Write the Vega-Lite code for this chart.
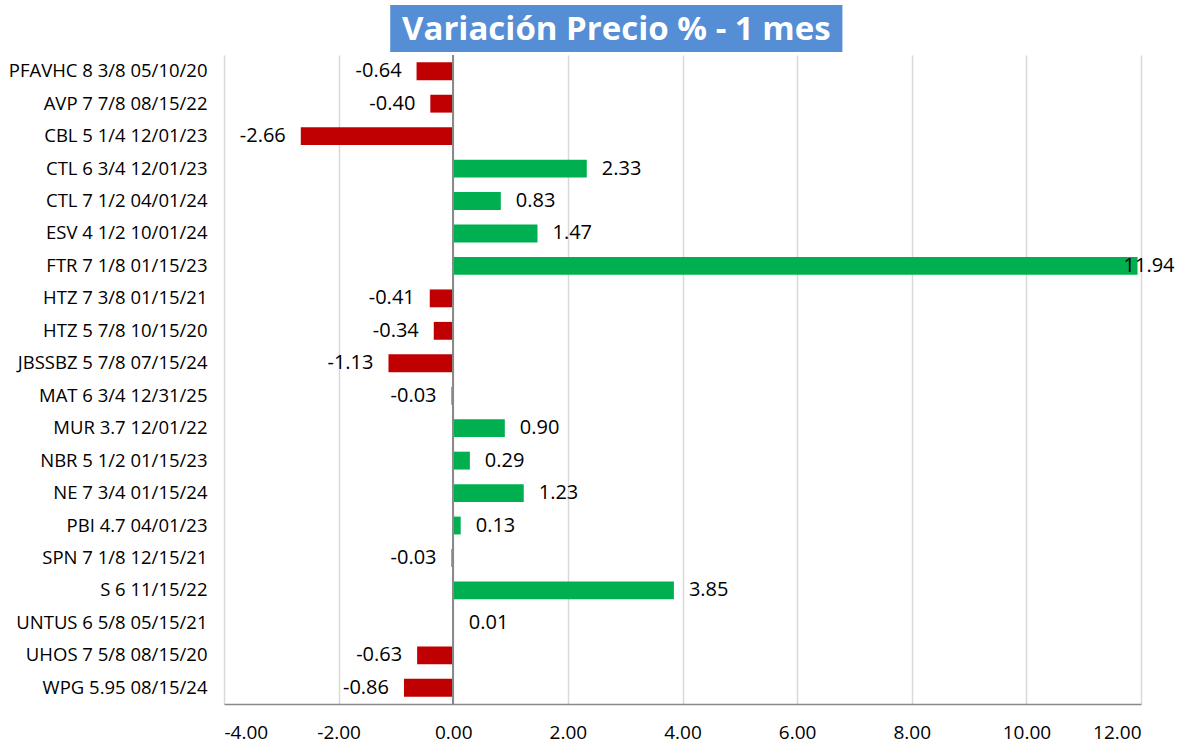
{
  "$schema": "https://vega.github.io/schema/vega-lite/v6.json",
  "padding": {"left": 8, "top": 5, "right": 10, "bottom": 0},
  "config": {
    "view": {"stroke": null},
    "font": "Open Sans",
    "locale": {"number": {"decimal": ".", "thousands": ",", "grouping": [3], "currency": ["$", ""], "minus": "-"}}
  },
  "spacing": 2,
  "vconcat": [
    {
      "width": 917,
      "height": 47,
      "data": {"values": [{"t": "Variación Precio % - 1 mes", "x1": -1.1, "x2": 6.79, "xm": 2.845}]},
      "layer": [
        {
          "mark": {"type": "rect", "color": "#558ED5"},
          "encoding": {
            "x": {"field": "x1", "type": "quantitative", "scale": {"domain": [-4, 12], "nice": false}, "axis": null},
            "x2": {"field": "x2"}
          }
        },
        {
          "mark": {"type": "text", "color": "white", "fontSize": 33, "fontWeight": "bold", "font": "Open Sans", "dy": 1},
          "encoding": {
            "x": {"field": "xm", "type": "quantitative", "scale": {"domain": [-4, 12], "nice": false}, "axis": null},
            "text": {"field": "t"}
          }
        }
      ]
    },
    {
      "width": 917,
      "height": 649,
      "data": {"values": [
        {"name": "PFAVHC 8 3/8 05/10/20", "v": -0.64},
        {"name": "AVP 7 7/8 08/15/22", "v": -0.40},
        {"name": "CBL 5 1/4 12/01/23", "v": -2.66},
        {"name": "CTL 6 3/4 12/01/23", "v": 2.33},
        {"name": "CTL 7 1/2 04/01/24", "v": 0.83},
        {"name": "ESV 4 1/2 10/01/24", "v": 1.47},
        {"name": "FTR 7 1/8 01/15/23", "v": 11.94},
        {"name": "HTZ 7 3/8 01/15/21", "v": -0.41},
        {"name": "HTZ 5 7/8 10/15/20", "v": -0.34},
        {"name": "JBSSBZ 5 7/8 07/15/24", "v": -1.13},
        {"name": "MAT 6 3/4 12/31/25", "v": -0.03},
        {"name": "MUR 3.7 12/01/22", "v": 0.90},
        {"name": "NBR 5 1/2 01/15/23", "v": 0.29},
        {"name": "NE 7 3/4 01/15/24", "v": 1.23},
        {"name": "PBI 4.7 04/01/23", "v": 0.13},
        {"name": "SPN 7 1/8 12/15/21", "v": -0.03},
        {"name": "S 6 11/15/22", "v": 3.85},
        {"name": "UNTUS 6 5/8 05/15/21", "v": 0.01},
        {"name": "UHOS 7 5/8 08/15/20", "v": -0.63},
        {"name": "WPG 5.95 08/15/24", "v": -0.86}
      ]},
      "encoding": {
        "y": {
          "field": "name", "type": "nominal", "sort": null, "title": null,
          "scale": {"paddingInner": 0.45, "paddingOuter": 0.225},
          "axis": {"domain": false, "ticks": false, "labelFontSize": 18.5, "labelColor": "#000000", "labelPadding": 17, "labelLimit": 0, "minExtent": 214, "maxExtent": 214, "labelFont": "Open Sans"}
        },
        "x": {
          "field": "v", "type": "quantitative", "title": null,
          "scale": {"domain": [-4, 12], "nice": false, "zero": false},
          "axis": {"values": [-4, -2, 0, 2, 4, 6, 8, 10, 12], "format": ".2f", "grid": true, "gridColor": "#D9D9D9", "gridWidth": 1.5, "domainColor": "#898989", "domainWidth": 1.5, "ticks": false, "labelFontSize": 19, "labelColor": "#000000", "labelPadding": 19, "labelFont": "Open Sans"}
        }
      },
      "layer": [
        {
          "mark": {"type": "bar"},
          "encoding": {
            "color": {"condition": {"test": "datum.v < 0", "value": "#C00000"}, "value": "#00B050"}
          }
        },
        {
          "mark": {"type": "rule", "color": "#898989", "strokeWidth": 1.5},
          "encoding": {"x": {"datum": 0, "type": "quantitative"}, "y": null}
        },
        {
          "transform": [{"filter": "datum.v < 0"}],
          "mark": {"type": "text", "align": "right", "dx": -15, "fontSize": 20, "color": "#000000"},
          "encoding": {"text": {"field": "v", "type": "quantitative", "format": ".2f"}}
        },
        {
          "transform": [{"filter": "datum.v >= 0 && datum.v < 10"}],
          "mark": {"type": "text", "align": "left", "dx": 15, "fontSize": 20, "color": "#000000"},
          "encoding": {"text": {"field": "v", "type": "quantitative", "format": ".2f"}}
        },
        {
          "transform": [{"filter": "datum.v >= 10"}],
          "mark": {"type": "text", "align": "left", "dx": -14, "fontSize": 20, "color": "#000000"},
          "encoding": {"text": {"field": "v", "type": "quantitative", "format": ".2f"}}
        }
      ]
    }
  ]
}
